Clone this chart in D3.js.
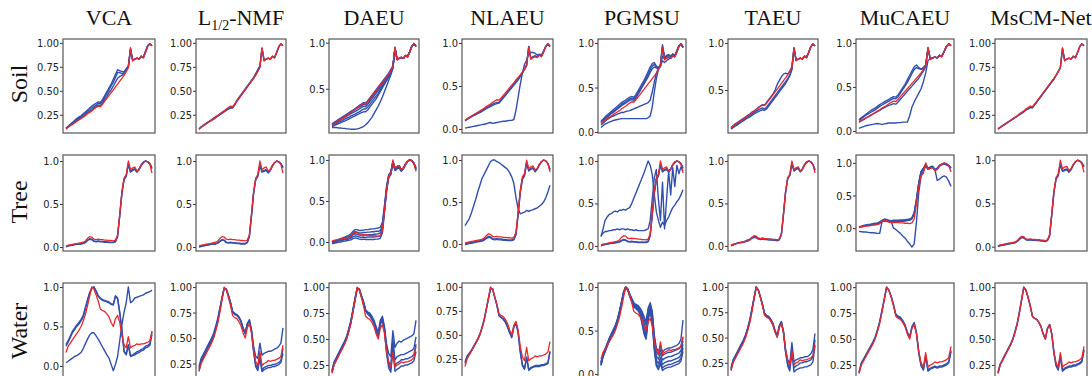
<!DOCTYPE html>
<html><head><meta charset="utf-8">
<script src="https://cdn.jsdelivr.net/npm/d3@7"></script>
<style>body{margin:0;background:#fff}svg{display:block}</style>
</head><body><svg id="c" width="1092" height="376"></svg>
<script>
// ---------------- DATA ----------------
const methods = ["VCA","L1/2-NMF","DAEU","NLAEU","PGMSU","TAEU","MuCAEU","MsCM-Net"];
const materials = ["Soil","Tree","Water"];

// reference spectra (red), 41 bands
const soilRef = [0.10,0.12,0.135,0.15,0.165,0.18,0.195,0.21,0.225,0.24,0.26,0.275,0.29,0.31,0.325,0.34,0.335,0.36,0.39,0.42,0.45,0.48,0.51,0.54,0.57,0.60,0.63,0.66,0.70,0.74,0.95,0.81,0.83,0.84,0.83,0.86,0.84,0.90,0.96,0.99,0.97];
const treeRef = [0.01,0.02,0.025,0.03,0.035,0.04,0.045,0.05,0.055,0.07,0.10,0.12,0.115,0.09,0.085,0.09,0.085,0.085,0.08,0.08,0.075,0.075,0.07,0.08,0.14,0.38,0.64,0.80,0.84,1.00,0.90,0.92,0.93,0.88,0.90,0.95,0.98,1.00,0.99,0.96,0.86];
const waterRef = [0.17,0.25,0.29,0.33,0.37,0.41,0.45,0.50,0.57,0.65,0.76,0.88,1.00,0.97,0.90,0.82,0.72,0.70,0.69,0.66,0.62,0.55,0.50,0.60,0.64,0.55,0.38,0.27,0.23,0.37,0.23,0.25,0.26,0.28,0.27,0.28,0.28,0.29,0.30,0.32,0.43];

// estimated endmembers (blue)
const vcaSoil = [
[0.11,0.13,0.15,0.17,0.19,0.21,0.225,0.24,0.26,0.28,0.30,0.32,0.34,0.355,0.37,0.385,0.38,0.41,0.45,0.49,0.53,0.57,0.62,0.67,0.72,0.71,0.70,0.70,0.73,0.76,0.94,0.82,0.83,0.84,0.83,0.86,0.85,0.91,0.97,0.99,0.97],
[0.11,0.125,0.145,0.165,0.18,0.20,0.215,0.23,0.25,0.265,0.285,0.30,0.32,0.335,0.35,0.37,0.365,0.39,0.43,0.47,0.51,0.55,0.59,0.64,0.69,0.69,0.68,0.69,0.72,0.75,0.93,0.82,0.83,0.84,0.83,0.86,0.85,0.91,0.97,0.99,0.97],
[0.105,0.12,0.14,0.155,0.17,0.19,0.205,0.22,0.235,0.25,0.27,0.285,0.30,0.32,0.335,0.35,0.345,0.37,0.41,0.44,0.48,0.51,0.55,0.59,0.63,0.65,0.66,0.68,0.71,0.75,0.93,0.82,0.83,0.84,0.83,0.86,0.85,0.91,0.97,0.99,0.97]];
const l12Soil = [
[0.10,0.12,0.135,0.15,0.165,0.18,0.19,0.205,0.22,0.235,0.25,0.265,0.28,0.295,0.31,0.32,0.32,0.35,0.39,0.42,0.45,0.48,0.51,0.54,0.57,0.60,0.63,0.67,0.71,0.75,0.94,0.82,0.83,0.84,0.83,0.86,0.85,0.90,0.96,0.99,0.97],
[0.105,0.125,0.14,0.155,0.17,0.185,0.20,0.215,0.23,0.245,0.26,0.275,0.29,0.30,0.315,0.325,0.33,0.36,0.40,0.43,0.46,0.49,0.52,0.55,0.58,0.61,0.64,0.68,0.72,0.76,0.94,0.82,0.83,0.84,0.83,0.86,0.85,0.90,0.96,0.99,0.97]];
const daeuSoil = [
[0.12,0.135,0.15,0.165,0.18,0.195,0.21,0.225,0.24,0.255,0.27,0.285,0.30,0.32,0.335,0.35,0.345,0.37,0.40,0.43,0.46,0.49,0.52,0.55,0.58,0.61,0.64,0.67,0.71,0.75,0.95,0.82,0.83,0.84,0.83,0.86,0.85,0.90,0.96,0.99,0.96],
[0.11,0.125,0.14,0.155,0.17,0.185,0.20,0.215,0.23,0.245,0.26,0.275,0.29,0.30,0.315,0.33,0.325,0.35,0.38,0.41,0.44,0.47,0.50,0.53,0.56,0.59,0.62,0.65,0.69,0.74,0.94,0.82,0.83,0.84,0.83,0.86,0.85,0.90,0.96,0.99,0.96],
[0.11,0.12,0.135,0.15,0.16,0.175,0.19,0.20,0.215,0.23,0.24,0.255,0.265,0.28,0.295,0.31,0.305,0.33,0.36,0.39,0.42,0.45,0.48,0.51,0.54,0.57,0.60,0.64,0.68,0.74,0.94,0.82,0.83,0.84,0.83,0.86,0.85,0.90,0.96,0.99,0.96],
[0.10,0.11,0.12,0.135,0.145,0.155,0.17,0.18,0.19,0.205,0.215,0.225,0.24,0.25,0.265,0.28,0.28,0.30,0.33,0.36,0.39,0.42,0.45,0.49,0.52,0.56,0.59,0.63,0.67,0.73,0.94,0.82,0.83,0.84,0.83,0.86,0.85,0.90,0.96,0.99,0.96],
[0.09,0.10,0.11,0.12,0.13,0.14,0.15,0.16,0.17,0.185,0.195,0.205,0.22,0.23,0.24,0.25,0.25,0.27,0.30,0.33,0.36,0.39,0.43,0.47,0.51,0.55,0.59,0.63,0.68,0.73,0.93,0.82,0.83,0.84,0.83,0.86,0.85,0.90,0.96,0.99,0.96],
[0.08,0.08,0.08,0.075,0.075,0.07,0.07,0.065,0.065,0.06,0.06,0.06,0.065,0.07,0.08,0.09,0.11,0.13,0.16,0.19,0.23,0.27,0.31,0.36,0.41,0.47,0.53,0.59,0.65,0.72,0.93,0.82,0.83,0.84,0.83,0.86,0.85,0.90,0.96,0.99,0.96]];
const nlaeuSoil = [
[0.10,0.115,0.13,0.145,0.16,0.175,0.19,0.20,0.215,0.23,0.245,0.26,0.275,0.29,0.30,0.31,0.31,0.34,0.37,0.40,0.43,0.46,0.49,0.52,0.55,0.58,0.62,0.66,0.70,0.75,0.96,0.82,0.84,0.85,0.84,0.86,0.85,0.90,0.96,0.99,0.96],
[0.095,0.11,0.125,0.14,0.155,0.165,0.18,0.19,0.205,0.22,0.235,0.25,0.26,0.275,0.285,0.295,0.30,0.33,0.36,0.39,0.42,0.45,0.48,0.51,0.54,0.57,0.61,0.65,0.69,0.74,0.96,0.82,0.84,0.85,0.84,0.86,0.85,0.90,0.96,0.99,0.96],
[0.01,0.015,0.02,0.025,0.03,0.035,0.04,0.045,0.05,0.055,0.06,0.07,0.075,0.065,0.07,0.075,0.08,0.085,0.09,0.09,0.095,0.10,0.10,0.11,0.22,0.37,0.52,0.65,0.75,0.80,0.88,0.89,0.89,0.88,0.86,0.87,0.86,0.91,0.96,0.99,0.96]];
const pgmsuSoil = [
[0.12,0.145,0.17,0.19,0.21,0.23,0.25,0.27,0.29,0.31,0.33,0.345,0.36,0.375,0.39,0.40,0.39,0.42,0.46,0.50,0.54,0.58,0.63,0.68,0.73,0.77,0.78,0.74,0.72,0.76,0.98,0.84,0.86,0.87,0.85,0.88,0.86,0.91,0.97,0.99,0.95],
[0.11,0.135,0.155,0.175,0.195,0.215,0.235,0.25,0.27,0.29,0.31,0.325,0.34,0.355,0.37,0.38,0.37,0.40,0.44,0.48,0.52,0.56,0.60,0.65,0.70,0.74,0.76,0.73,0.71,0.75,0.96,0.84,0.85,0.86,0.85,0.87,0.86,0.91,0.97,0.99,0.95],
[0.10,0.125,0.145,0.165,0.185,0.205,0.22,0.24,0.26,0.275,0.295,0.31,0.325,0.34,0.355,0.365,0.355,0.38,0.42,0.46,0.50,0.54,0.58,0.62,0.67,0.71,0.73,0.72,0.71,0.75,0.95,0.83,0.85,0.86,0.85,0.87,0.86,0.91,0.97,0.99,0.95],
[0.05,0.07,0.09,0.10,0.11,0.12,0.13,0.135,0.14,0.145,0.15,0.15,0.15,0.15,0.15,0.15,0.15,0.15,0.15,0.15,0.15,0.15,0.15,0.16,0.18,0.28,0.45,0.60,0.70,0.74,0.80,0.78,0.80,0.82,0.83,0.85,0.85,0.90,0.96,0.99,0.95],
[0.08,0.10,0.12,0.14,0.155,0.17,0.18,0.19,0.20,0.21,0.22,0.22,0.23,0.235,0.24,0.25,0.26,0.27,0.28,0.29,0.30,0.31,0.32,0.33,0.36,0.45,0.56,0.66,0.72,0.75,0.85,0.82,0.83,0.84,0.83,0.86,0.85,0.90,0.96,0.99,0.95]];
const taeuSoil = [
[0.10,0.12,0.14,0.155,0.17,0.185,0.20,0.215,0.23,0.245,0.265,0.28,0.295,0.315,0.33,0.345,0.34,0.37,0.40,0.43,0.46,0.50,0.56,0.60,0.64,0.67,0.68,0.67,0.70,0.75,0.95,0.82,0.83,0.84,0.83,0.86,0.85,0.90,0.96,0.99,0.97],
[0.09,0.11,0.125,0.14,0.155,0.17,0.185,0.20,0.215,0.23,0.245,0.26,0.275,0.29,0.30,0.31,0.30,0.32,0.35,0.38,0.41,0.44,0.47,0.50,0.53,0.56,0.59,0.62,0.66,0.72,0.94,0.82,0.83,0.84,0.83,0.86,0.85,0.90,0.96,0.99,0.97],
[0.085,0.10,0.115,0.13,0.145,0.16,0.175,0.19,0.205,0.215,0.23,0.245,0.26,0.27,0.28,0.29,0.285,0.30,0.33,0.36,0.39,0.42,0.45,0.48,0.51,0.54,0.57,0.61,0.65,0.72,0.94,0.82,0.83,0.84,0.83,0.86,0.85,0.90,0.96,0.99,0.97]];
const mucaeuSoil = [
[0.13,0.15,0.17,0.19,0.21,0.23,0.245,0.26,0.28,0.30,0.315,0.33,0.345,0.36,0.375,0.39,0.385,0.41,0.45,0.49,0.53,0.58,0.63,0.68,0.73,0.75,0.72,0.70,0.72,0.75,0.94,0.82,0.83,0.84,0.83,0.86,0.85,0.90,0.96,0.99,0.97],
[0.12,0.14,0.16,0.18,0.195,0.21,0.225,0.24,0.26,0.28,0.295,0.31,0.325,0.34,0.355,0.37,0.365,0.39,0.43,0.47,0.51,0.55,0.60,0.65,0.70,0.72,0.71,0.70,0.72,0.75,0.94,0.82,0.83,0.84,0.83,0.86,0.85,0.90,0.96,0.99,0.97],
[0.10,0.115,0.13,0.145,0.16,0.175,0.19,0.205,0.22,0.235,0.25,0.265,0.28,0.29,0.30,0.31,0.305,0.33,0.36,0.39,0.42,0.45,0.48,0.51,0.54,0.57,0.60,0.64,0.68,0.73,0.94,0.82,0.83,0.84,0.83,0.86,0.85,0.90,0.96,0.99,0.97],
[0.03,0.04,0.05,0.06,0.065,0.07,0.075,0.08,0.085,0.08,0.075,0.08,0.085,0.09,0.09,0.09,0.09,0.095,0.095,0.10,0.10,0.10,0.17,0.27,0.33,0.38,0.43,0.48,0.56,0.66,0.80,0.82,0.83,0.84,0.83,0.86,0.85,0.90,0.96,0.99,0.97]];
const mscmSoil = [
[0.10,0.115,0.13,0.145,0.16,0.175,0.19,0.205,0.22,0.235,0.25,0.265,0.28,0.30,0.31,0.325,0.32,0.35,0.38,0.41,0.44,0.47,0.50,0.53,0.56,0.59,0.62,0.66,0.70,0.74,0.94,0.82,0.83,0.84,0.83,0.86,0.85,0.90,0.96,0.99,0.97],
[0.105,0.12,0.135,0.15,0.165,0.18,0.195,0.21,0.225,0.24,0.255,0.27,0.285,0.30,0.315,0.33,0.33,0.355,0.385,0.415,0.445,0.475,0.505,0.535,0.565,0.595,0.625,0.66,0.70,0.74,0.94,0.82,0.83,0.84,0.83,0.86,0.85,0.90,0.96,0.99,0.97]];

const vcaTree = [
[0.00,0.01,0.015,0.02,0.025,0.03,0.03,0.035,0.04,0.05,0.075,0.09,0.085,0.065,0.06,0.065,0.06,0.06,0.055,0.055,0.05,0.05,0.05,0.06,0.12,0.36,0.62,0.78,0.82,0.96,0.87,0.89,0.90,0.87,0.90,0.95,0.98,1.00,0.99,0.97,0.92],
[0.005,0.015,0.02,0.025,0.03,0.035,0.035,0.04,0.045,0.055,0.08,0.095,0.09,0.07,0.065,0.07,0.065,0.065,0.06,0.06,0.055,0.055,0.055,0.065,0.13,0.37,0.63,0.79,0.83,0.97,0.88,0.90,0.91,0.88,0.91,0.96,0.99,1.00,0.99,0.97,0.91]];
const l12Tree = [
[0.00,0.005,0.01,0.015,0.02,0.025,0.03,0.03,0.035,0.045,0.065,0.08,0.075,0.05,0.045,0.05,0.045,0.045,0.04,0.04,0.035,0.035,0.035,0.05,0.12,0.36,0.62,0.78,0.82,0.95,0.87,0.88,0.89,0.86,0.89,0.94,0.98,1.00,0.99,0.97,0.93],
[0.005,0.01,0.015,0.02,0.025,0.03,0.035,0.035,0.04,0.05,0.07,0.085,0.08,0.055,0.05,0.055,0.05,0.05,0.045,0.045,0.04,0.04,0.04,0.055,0.13,0.37,0.63,0.79,0.83,0.96,0.88,0.89,0.90,0.87,0.90,0.95,0.98,1.00,0.99,0.97,0.92]];
const daeuTree = [
[0.00,0.01,0.02,0.03,0.04,0.05,0.06,0.07,0.08,0.10,0.13,0.15,0.15,0.14,0.14,0.145,0.15,0.15,0.155,0.16,0.16,0.165,0.17,0.18,0.24,0.45,0.68,0.82,0.85,0.98,0.90,0.92,0.93,0.88,0.90,0.95,0.98,1.00,0.99,0.96,0.88],
[0.00,0.01,0.015,0.025,0.03,0.04,0.05,0.055,0.065,0.08,0.11,0.125,0.12,0.11,0.11,0.115,0.115,0.12,0.12,0.125,0.125,0.13,0.13,0.14,0.20,0.42,0.66,0.81,0.85,0.98,0.90,0.92,0.93,0.88,0.90,0.95,0.98,1.00,0.99,0.96,0.88],
[0.00,0.005,0.01,0.02,0.025,0.03,0.035,0.04,0.05,0.06,0.09,0.10,0.095,0.085,0.08,0.085,0.085,0.09,0.09,0.09,0.095,0.095,0.10,0.11,0.17,0.40,0.65,0.80,0.84,0.97,0.89,0.91,0.92,0.87,0.90,0.95,0.98,1.00,0.99,0.96,0.89],
[-0.01,0.0,0.005,0.01,0.015,0.02,0.025,0.03,0.035,0.045,0.065,0.075,0.07,0.06,0.055,0.06,0.055,0.06,0.06,0.06,0.06,0.065,0.065,0.075,0.14,0.38,0.64,0.79,0.83,0.96,0.88,0.90,0.91,0.87,0.90,0.95,0.98,1.00,0.99,0.96,0.90],
[-0.02,-0.015,-0.01,-0.005,0.0,0.005,0.01,0.015,0.02,0.025,0.04,0.05,0.045,0.035,0.03,0.035,0.03,0.03,0.03,0.03,0.03,0.035,0.035,0.045,0.11,0.36,0.62,0.78,0.82,0.95,0.87,0.89,0.90,0.86,0.89,0.94,0.98,1.00,0.99,0.96,0.91]];
const nlaeuTree = [
[0.00,0.01,0.015,0.02,0.025,0.03,0.035,0.04,0.045,0.055,0.075,0.09,0.085,0.065,0.06,0.065,0.06,0.06,0.055,0.055,0.05,0.05,0.05,0.06,0.12,0.36,0.62,0.78,0.82,0.97,0.88,0.90,0.91,0.87,0.90,0.95,0.98,1.00,0.99,0.96,0.88],
[-0.01,0.0,0.005,0.01,0.015,0.02,0.025,0.03,0.035,0.045,0.065,0.08,0.075,0.055,0.05,0.055,0.05,0.05,0.045,0.045,0.04,0.04,0.04,0.05,0.11,0.35,0.61,0.77,0.81,0.96,0.87,0.89,0.90,0.86,0.89,0.94,0.98,1.00,0.99,0.96,0.89],
[0.22,0.26,0.30,0.37,0.45,0.53,0.62,0.70,0.78,0.83,0.88,0.93,0.98,1.00,1.00,0.98,0.97,0.95,0.93,0.91,0.89,0.85,0.80,0.72,0.55,0.42,0.36,0.37,0.38,0.40,0.39,0.40,0.41,0.42,0.43,0.45,0.47,0.50,0.55,0.62,0.70]];
const pgmsuTree = [
[0.00,0.01,0.015,0.02,0.025,0.03,0.03,0.035,0.04,0.045,0.06,0.07,0.065,0.05,0.045,0.05,0.045,0.045,0.04,0.04,0.04,0.04,0.04,0.05,0.12,0.36,0.62,0.78,0.82,0.95,0.87,0.89,0.90,0.87,0.90,0.95,0.98,1.00,0.99,0.97,0.92],
[0.005,0.015,0.02,0.025,0.03,0.035,0.035,0.04,0.045,0.05,0.065,0.075,0.07,0.055,0.05,0.055,0.05,0.05,0.045,0.045,0.045,0.045,0.045,0.055,0.13,0.37,0.63,0.79,0.83,0.96,0.88,0.90,0.91,0.88,0.91,0.96,0.99,1.00,0.99,0.97,0.91],
[0.11,0.20,0.30,0.34,0.37,0.38,0.40,0.41,0.40,0.42,0.42,0.43,0.42,0.44,0.45,0.50,0.56,0.62,0.68,0.74,0.80,0.86,0.93,1.00,0.95,0.84,0.60,0.40,0.30,0.22,0.28,0.24,0.30,0.34,0.40,0.45,0.48,0.52,0.55,0.60,0.66],
[0.12,0.15,0.17,0.17,0.18,0.18,0.19,0.19,0.20,0.19,0.20,0.20,0.19,0.20,0.19,0.19,0.18,0.19,0.18,0.18,0.18,0.18,0.19,0.20,0.30,0.55,0.80,0.90,0.55,0.30,0.75,0.20,0.55,0.88,0.60,0.92,0.70,0.95,0.85,0.93,0.88]];
const taeuTree = [
[0.00,0.01,0.02,0.03,0.035,0.04,0.045,0.05,0.06,0.07,0.09,0.10,0.095,0.08,0.075,0.08,0.075,0.075,0.07,0.07,0.065,0.065,0.06,0.07,0.13,0.37,0.63,0.79,0.83,0.96,0.88,0.90,0.91,0.87,0.90,0.95,0.98,1.00,0.99,0.96,0.90],
[0.005,0.015,0.025,0.035,0.04,0.045,0.05,0.06,0.07,0.08,0.10,0.11,0.105,0.09,0.085,0.09,0.085,0.085,0.08,0.08,0.075,0.075,0.07,0.08,0.14,0.38,0.64,0.80,0.83,0.97,0.89,0.91,0.92,0.88,0.91,0.96,0.99,1.00,0.99,0.96,0.89]];
const mucaeuTree = [
[0.02,0.03,0.04,0.05,0.055,0.06,0.07,0.075,0.08,0.095,0.12,0.14,0.135,0.12,0.115,0.12,0.12,0.12,0.125,0.125,0.13,0.135,0.14,0.16,0.24,0.45,0.70,0.87,0.92,0.98,0.92,0.94,0.95,0.90,0.92,0.96,0.98,0.99,0.98,0.96,0.92],
[0.01,0.02,0.03,0.035,0.04,0.045,0.05,0.055,0.06,0.075,0.10,0.12,0.115,0.10,0.095,0.10,0.10,0.10,0.105,0.105,0.11,0.115,0.12,0.14,0.22,0.42,0.68,0.86,0.91,0.97,0.91,0.93,0.94,0.89,0.91,0.96,0.98,0.99,0.98,0.96,0.93],
[-0.05,-0.055,-0.06,-0.06,-0.065,-0.07,-0.07,-0.075,-0.08,-0.08,0.10,0.11,0.10,0.10,0.10,0.0,-0.02,-0.05,-0.08,-0.12,-0.15,-0.20,-0.24,-0.29,-0.24,0.10,0.55,0.80,0.88,0.95,0.90,0.92,0.93,0.89,0.90,0.95,0.97,0.98,0.97,0.95,0.92],
[0.01,0.02,0.03,0.04,0.045,0.05,0.06,0.065,0.07,0.085,0.11,0.13,0.125,0.11,0.105,0.11,0.11,0.11,0.115,0.115,0.12,0.125,0.13,0.15,0.23,0.44,0.69,0.86,0.91,0.96,0.90,0.92,0.93,0.90,0.73,0.75,0.78,0.80,0.78,0.72,0.64]];
const mscmTree = [
[0.005,0.015,0.02,0.025,0.03,0.035,0.04,0.045,0.05,0.065,0.09,0.11,0.105,0.085,0.08,0.085,0.08,0.08,0.075,0.075,0.07,0.07,0.065,0.075,0.13,0.37,0.63,0.79,0.83,0.96,0.88,0.89,0.90,0.87,0.90,0.95,0.98,1.00,0.99,0.97,0.93],
[0.0,0.01,0.015,0.02,0.025,0.03,0.035,0.04,0.045,0.06,0.085,0.105,0.10,0.08,0.075,0.08,0.075,0.075,0.07,0.07,0.065,0.065,0.06,0.07,0.12,0.36,0.62,0.78,0.82,0.95,0.87,0.88,0.89,0.86,0.89,0.94,0.98,1.00,0.99,0.97,0.92]];

const vcaWater = [
[0.25,0.30,0.36,0.42,0.46,0.50,0.53,0.57,0.62,0.72,0.82,0.92,0.98,1.00,0.94,0.88,0.85,0.83,0.82,0.81,0.80,0.78,0.77,0.88,0.85,0.67,0.45,0.18,0.14,0.26,0.12,0.13,0.14,0.16,0.17,0.19,0.20,0.23,0.24,0.26,0.40],
[0.27,0.32,0.38,0.44,0.48,0.52,0.55,0.59,0.64,0.74,0.84,0.93,0.99,1.00,0.95,0.89,0.86,0.84,0.83,0.82,0.81,0.79,0.78,0.89,0.86,0.68,0.46,0.19,0.15,0.27,0.13,0.14,0.16,0.18,0.19,0.21,0.22,0.25,0.26,0.28,0.44],
[0.04,0.06,0.08,0.10,0.12,0.13,0.15,0.17,0.22,0.28,0.34,0.39,0.42,0.42,0.38,0.34,0.29,0.24,0.19,0.14,0.10,0.02,-0.06,0.02,0.12,0.32,0.52,0.68,0.80,1.00,0.80,0.82,0.86,0.87,0.88,0.89,0.90,0.92,0.93,0.94,0.96]];
const l12Water = [
[0.22,0.30,0.34,0.38,0.42,0.46,0.50,0.55,0.62,0.70,0.80,0.90,0.99,0.98,0.92,0.85,0.76,0.74,0.73,0.71,0.67,0.60,0.55,0.64,0.68,0.58,0.42,0.32,0.30,0.45,0.33,0.35,0.36,0.37,0.37,0.38,0.39,0.40,0.42,0.45,0.60],
[0.18,0.26,0.31,0.35,0.39,0.43,0.47,0.52,0.59,0.67,0.78,0.89,0.99,0.98,0.91,0.84,0.75,0.73,0.72,0.70,0.66,0.59,0.54,0.63,0.67,0.56,0.36,0.22,0.18,0.30,0.17,0.19,0.20,0.21,0.21,0.22,0.22,0.23,0.24,0.26,0.35],
[0.20,0.28,0.32,0.36,0.40,0.44,0.48,0.53,0.60,0.68,0.79,0.90,0.99,0.98,0.92,0.85,0.76,0.74,0.73,0.70,0.66,0.59,0.55,0.64,0.67,0.57,0.38,0.24,0.20,0.33,0.19,0.21,0.22,0.23,0.23,0.24,0.24,0.25,0.26,0.28,0.40]];
const daeuWater = [
[0.20,0.28,0.32,0.36,0.40,0.44,0.48,0.53,0.60,0.68,0.79,0.90,0.99,0.98,0.92,0.86,0.78,0.76,0.75,0.72,0.68,0.62,0.56,0.68,0.72,0.62,0.45,0.36,0.33,0.58,0.42,0.46,0.48,0.47,0.49,0.50,0.51,0.52,0.53,0.55,0.68],
[0.19,0.27,0.31,0.35,0.39,0.43,0.47,0.52,0.59,0.67,0.78,0.89,0.99,0.98,0.92,0.86,0.78,0.76,0.74,0.71,0.67,0.60,0.54,0.66,0.70,0.60,0.40,0.28,0.24,0.50,0.30,0.33,0.34,0.35,0.35,0.36,0.37,0.38,0.39,0.41,0.52],
[0.18,0.26,0.30,0.34,0.38,0.42,0.46,0.51,0.58,0.66,0.77,0.88,0.99,0.98,0.91,0.85,0.77,0.75,0.73,0.70,0.66,0.59,0.53,0.65,0.69,0.59,0.38,0.25,0.21,0.45,0.25,0.27,0.28,0.30,0.30,0.31,0.31,0.32,0.33,0.35,0.45],
[0.18,0.26,0.30,0.34,0.38,0.42,0.46,0.51,0.58,0.66,0.77,0.88,0.99,0.98,0.91,0.85,0.77,0.74,0.72,0.69,0.65,0.58,0.52,0.64,0.68,0.58,0.36,0.22,0.18,0.40,0.19,0.21,0.22,0.24,0.24,0.25,0.25,0.26,0.27,0.29,0.38]];
const nlaeuWater = [
[0.22,0.28,0.31,0.34,0.38,0.42,0.46,0.51,0.58,0.66,0.77,0.88,0.98,0.98,0.89,0.81,0.70,0.68,0.66,0.63,0.58,0.52,0.47,0.58,0.62,0.52,0.32,0.18,0.14,0.26,0.13,0.15,0.16,0.17,0.17,0.17,0.18,0.18,0.19,0.20,0.32],
[0.20,0.27,0.30,0.33,0.37,0.41,0.45,0.50,0.57,0.65,0.76,0.87,0.98,0.98,0.89,0.81,0.70,0.68,0.67,0.64,0.59,0.53,0.48,0.59,0.63,0.53,0.33,0.19,0.15,0.27,0.14,0.16,0.17,0.18,0.18,0.18,0.19,0.19,0.20,0.21,0.33]];
const pgmsuWater = [
[0.12,0.22,0.28,0.34,0.40,0.46,0.50,0.55,0.62,0.72,0.83,0.94,1.00,0.98,0.92,0.87,0.82,0.80,0.79,0.76,0.72,0.66,0.60,0.76,0.82,0.72,0.45,0.30,0.26,0.32,0.25,0.28,0.29,0.30,0.30,0.31,0.32,0.33,0.35,0.40,0.62],
[0.14,0.23,0.29,0.35,0.41,0.46,0.51,0.56,0.63,0.72,0.83,0.94,1.00,0.98,0.92,0.86,0.81,0.79,0.78,0.75,0.70,0.63,0.56,0.74,0.80,0.70,0.42,0.26,0.22,0.28,0.21,0.23,0.24,0.25,0.25,0.26,0.27,0.28,0.29,0.32,0.42],
[0.13,0.22,0.28,0.34,0.40,0.45,0.50,0.55,0.62,0.71,0.82,0.93,1.00,0.98,0.91,0.85,0.80,0.78,0.77,0.73,0.67,0.58,0.50,0.70,0.78,0.66,0.38,0.21,0.17,0.24,0.16,0.18,0.19,0.20,0.20,0.21,0.22,0.23,0.24,0.27,0.38],
[0.11,0.21,0.27,0.33,0.39,0.44,0.49,0.54,0.61,0.70,0.81,0.93,1.00,0.97,0.90,0.84,0.79,0.77,0.75,0.71,0.63,0.53,0.45,0.66,0.76,0.62,0.34,0.16,0.12,0.19,0.11,0.13,0.14,0.15,0.15,0.16,0.17,0.18,0.19,0.22,0.34],
[0.10,0.20,0.26,0.32,0.38,0.43,0.48,0.53,0.60,0.69,0.80,0.92,0.99,0.97,0.90,0.84,0.78,0.76,0.74,0.70,0.60,0.48,0.42,0.64,0.74,0.60,0.30,0.12,0.08,0.15,0.07,0.09,0.10,0.11,0.11,0.12,0.13,0.14,0.15,0.18,0.30],
[0.10,0.20,0.26,0.32,0.38,0.43,0.48,0.53,0.60,0.69,0.80,0.92,0.99,0.97,0.90,0.83,0.77,0.75,0.73,0.69,0.58,0.46,0.40,0.62,0.72,0.58,0.27,0.09,0.05,0.12,0.04,0.06,0.07,0.08,0.08,0.09,0.10,0.11,0.12,0.15,0.26]];
const taeuWater = [
[0.20,0.28,0.32,0.36,0.40,0.44,0.48,0.53,0.60,0.68,0.79,0.90,1.00,0.97,0.90,0.83,0.74,0.72,0.71,0.68,0.64,0.57,0.52,0.62,0.66,0.56,0.38,0.28,0.24,0.45,0.26,0.28,0.29,0.30,0.30,0.31,0.31,0.32,0.34,0.38,0.54],
[0.18,0.27,0.31,0.35,0.39,0.43,0.47,0.52,0.59,0.67,0.78,0.89,1.00,0.97,0.90,0.82,0.73,0.71,0.70,0.67,0.63,0.56,0.51,0.61,0.65,0.55,0.35,0.22,0.17,0.35,0.16,0.18,0.19,0.20,0.20,0.21,0.21,0.22,0.23,0.26,0.42],
[0.19,0.27,0.31,0.35,0.39,0.43,0.47,0.52,0.59,0.67,0.78,0.89,1.00,0.97,0.90,0.82,0.73,0.71,0.70,0.67,0.63,0.56,0.51,0.61,0.65,0.55,0.36,0.24,0.20,0.40,0.20,0.22,0.23,0.25,0.25,0.26,0.26,0.27,0.28,0.31,0.48]];
const mucaeuWater = [
[0.17,0.26,0.30,0.34,0.38,0.42,0.46,0.51,0.58,0.66,0.77,0.88,1.00,0.97,0.91,0.83,0.73,0.71,0.70,0.67,0.63,0.56,0.51,0.61,0.65,0.55,0.36,0.24,0.20,0.33,0.19,0.21,0.22,0.23,0.22,0.23,0.23,0.24,0.25,0.27,0.38],
[0.18,0.27,0.31,0.35,0.39,0.43,0.47,0.52,0.59,0.67,0.78,0.89,1.00,0.97,0.91,0.83,0.74,0.72,0.71,0.68,0.64,0.57,0.52,0.62,0.66,0.56,0.37,0.25,0.21,0.34,0.20,0.22,0.23,0.24,0.23,0.24,0.24,0.25,0.26,0.28,0.39]];
const mscmWater = [
[0.18,0.26,0.30,0.34,0.38,0.42,0.46,0.51,0.58,0.66,0.77,0.88,1.00,0.97,0.90,0.82,0.72,0.70,0.69,0.66,0.62,0.55,0.50,0.60,0.64,0.55,0.37,0.25,0.21,0.34,0.20,0.22,0.23,0.24,0.24,0.25,0.25,0.26,0.27,0.29,0.40],
[0.17,0.25,0.29,0.33,0.37,0.41,0.45,0.50,0.57,0.65,0.76,0.88,1.00,0.97,0.90,0.82,0.72,0.70,0.69,0.66,0.62,0.55,0.50,0.60,0.64,0.55,0.37,0.24,0.20,0.33,0.19,0.21,0.22,0.23,0.23,0.24,0.24,0.25,0.26,0.28,0.39]];

// y-axis value ranges (bottom, top) of each panel
const soilDomains  = [[0.06,1.04],[0.06,1.04],[0.02,1.04],[-0.047,1.047],[-0.011,1.045],[0.043,1.043],[-0.023,1.045],[0.06,1.04]];
const treeDomains  = [[-0.047,1.07],[-0.047,1.07],[-0.11,1.06],[-0.083,1.06],[-0.06,1.07],[-0.06,1.07],[-0.35,1.12],[-0.05,1.06]];
const waterDomains = [[-0.165,1.05],[0.098,1.04],[0.115,1.04],[0.04,1.04],[-0.057,1.046],[0.09,1.04],[0.115,1.04],[0.115,1.04]];
// tick labels
const soilTicks  = [[0.25,0.5,0.75,1],[0.25,0.5,0.75,1],[0.5,1],[0,0.5,1],[0,0.5,1],[0.5,1],[0,0.5,1],[0.25,0.5,0.75,1]];
const treeTicks  = [[0,0.5,1],[0,0.5,1],[0,0.5,1],[0,0.5,1],[0,0.5,1],[0,0.5,1],[0,0.5,1],[0,0.5,1]];
const waterTicks = [[0,0.5,1],[0.25,0.5,0.75,1],[0.25,0.5,0.75,1],[0.25,0.5,0.75,1],[0,0.5,1],[0.25,0.5,0.75,1],[0.25,0.5,0.75,1],[0.25,0.5,0.75,1]];

// ---------------- DRAW ----------------
const refs = [soilRef, treeRef, waterRef];
const ests = [
  [vcaSoil,l12Soil,daeuSoil,nlaeuSoil,pgmsuSoil,taeuSoil,mucaeuSoil,mscmSoil],
  [vcaTree,l12Tree,daeuTree,nlaeuTree,pgmsuTree,taeuTree,mucaeuTree,mscmTree],
  [vcaWater,l12Water,daeuWater,nlaeuWater,pgmsuWater,taeuWater,mucaeuWater,mscmWater]];
const doms = [soilDomains, treeDomains, waterDomains];
const tks = [soilTicks, treeTicks, waterTicks];

const colL = [63,196,329,462,598,728,856,995];
const colR = [155,286,419,553,686,818,954,1087];
const rowT = [39,155,283];
const rowB = [133,251,379];
const rowMid = [84,202,331];
const BLUE = "#3150ac", RED = "#e8282c";

const svg = d3.select("#c");
const defs = svg.append("defs");

// column titles
methods.forEach((m,i)=>{
  const t = svg.append("text")
    .attr("x",(colL[i]+colR[i])/2).attr("y",25)
    .attr("text-anchor","middle")
    .attr("font-family","'Liberation Serif','Times New Roman',serif")
    .attr("font-size",22).attr("fill","#111");
  const mm = m.match(/^L(1\/2)(.*)$/);
  if (mm) {
    t.append("tspan").text("L");
    t.append("tspan").attr("font-size",14).attr("dy",5).text(mm[1]);
    t.append("tspan").attr("dy",-5).text(mm[2]);
  } else t.text(m);
});
// row labels
materials.forEach((m,r)=>{
  svg.append("text")
    .attr("transform",`translate(27,${rowMid[r]}) rotate(-90)`)
    .attr("text-anchor","middle")
    .attr("font-family","'Liberation Serif','Times New Roman',serif")
    .attr("font-size",24).attr("fill","#111").text(m);
});

for (let r=0;r<3;r++){
  for (let c=0;c<8;c++){
    const x = d3.scaleLinear().domain([0,40]).range([colL[c]+3, colR[c]-3]);
    const y = d3.scaleLinear().domain(doms[r][c]).range([rowB[r], rowT[r]]);
    const id = `clip${r}_${c}`;
    defs.append("clipPath").attr("id",id).append("rect")
      .attr("x",colL[c]).attr("y",rowT[r]).attr("width",colR[c]-colL[c]).attr("height",rowB[r]-rowT[r]);
    const g = svg.append("g");
    const line = d3.line().x((d,i)=>x(i)).y(d=>y(d));
    const pg = g.append("g").attr("clip-path",`url(#${id})`);
    pg.selectAll("path.b").data(ests[r][c]).join("path").attr("class","b")
      .attr("d",line).attr("fill","none").attr("stroke",BLUE).attr("stroke-width",1.4)
      .attr("stroke-linejoin","round");
    pg.append("path").attr("d",line(refs[r])).attr("fill","none")
      .attr("stroke",RED).attr("stroke-width",1.3).attr("stroke-linejoin","round");
    const tv = tks[r][c];
    const fmt = tv.some(v=>Math.round(v*100)%50!==0) ? d3.format(".2f") : d3.format(".1f");
    const ax = g.append("g").attr("transform",`translate(${colL[c]},0)`)
      .call(d3.axisLeft(y).tickValues(tv).tickFormat(fmt).tickSize(3).tickPadding(1));
    ax.select(".domain").remove();
    ax.selectAll("line").attr("stroke","#333");
    ax.selectAll("text").attr("font-family","'Liberation Sans Narrow','DejaVu Sans Condensed',sans-serif")
      .attr("font-size",11).attr("fill","#222");
    g.append("rect").attr("x",colL[c]).attr("y",rowT[r])
      .attr("width",colR[c]-colL[c]).attr("height",rowB[r]-rowT[r])
      .attr("fill","none").attr("stroke","#555").attr("stroke-width",1.2);
  }
}
</script>
</body></html>
